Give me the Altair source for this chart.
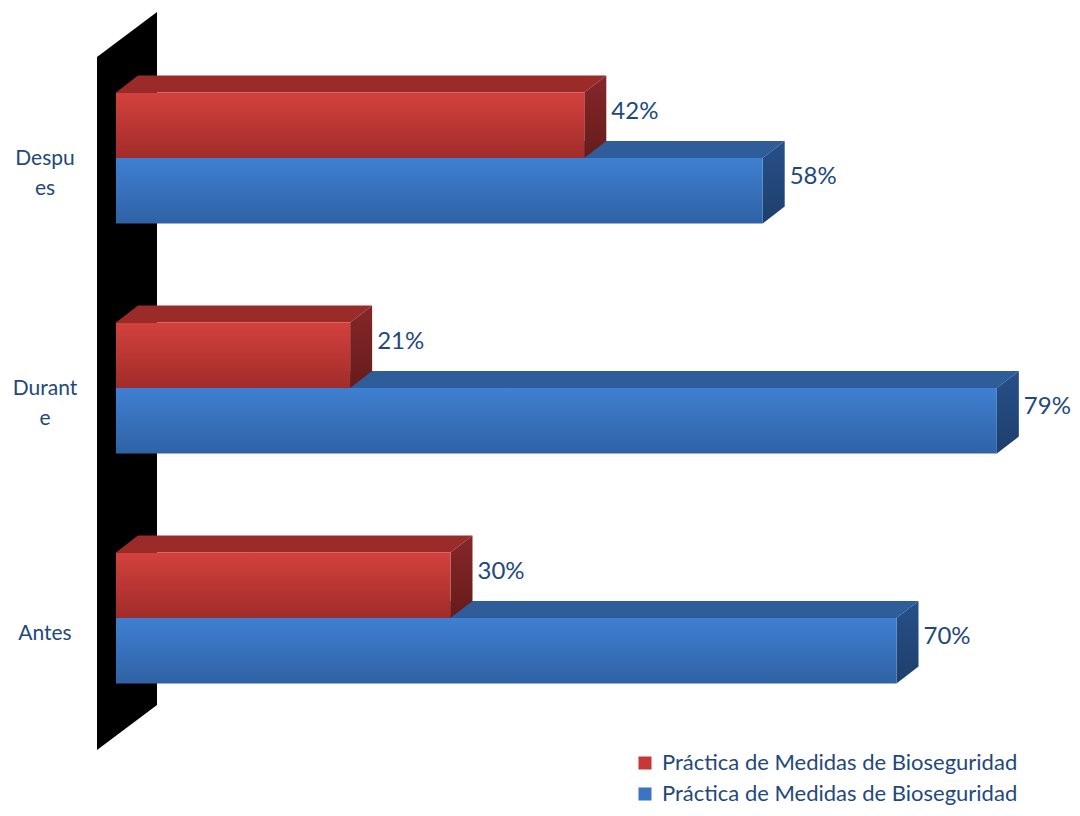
import altair as alt
import pandas as pd

# ---- data ----
categories = ["Despues", "Durante", "Antes"]
category_labels = ["Despu\nes", "Durant\ne", "Antes"]
red_values = [42, 21, 30]
blue_values = [58, 79, 70]
legend_keys = ["Rojo", "Azul"]
legend_text = "Práctica de Medidas de Bioseguridad"

# ---- geometry (in data units) ----
W, H = 1064, 800
PX_PER_PCT = 11.15
ZERO_PX = 108
X_DOMAIN = [-ZERO_PX / PX_PER_PCT, (W - ZERO_PX) / PX_PER_PCT]
Y_UNIT_PX = 230.0
Y_DOMAIN = [-150 / Y_UNIT_PX, (H - 150) / Y_UNIT_PX]
HALF = 65.5 / Y_UNIT_PX          # bar thickness
DX = 22 / PX_PER_PCT             # depth along x (percent)
DY = 17 / Y_UNIT_PX              # depth along y

fronts, faces, labels = [], [], []
fid = 0
for series, vals, off in (("blue", blue_values, 0.0), ("red", red_values, -HALF)):
    for i, (cat, v) in enumerate(zip(categories, vals)):
        ytop = i + off
        ybot = ytop + HALF
        fronts.append(dict(series=series, cat=cat, x=0.0, x2=v, y=ytop, y2=ybot))
        # top face
        for (xx, yy, yy2) in ((0.0, ytop, ytop), (DX, ytop - DY, ytop),
                              (v, ytop - DY, ytop), (v + DX, ytop - DY, ytop - DY)):
            faces.append(dict(fid=fid, series=series, kind="top", x=xx, y=yy, y2=yy2))
        fid += 1
        # side face
        for (xx, yy, yy2) in ((v, ytop, ybot), (v + DX, ytop - DY, ybot - DY)):
            faces.append(dict(fid=fid, series=series, kind="side", x=xx, y=yy, y2=yy2))
        fid += 1
        labels.append(dict(series=series, x=v + DX, y=(ytop + ybot) / 2 - DY / 2,
                           text=f"{v}%"))

fronts = pd.DataFrame(fronts)
faces = pd.DataFrame(faces)
labels = pd.DataFrame(labels)

# axis wall (black slab behind the bars)
WALL_FRONT_X = -19 / PX_PER_PCT
WALL_BACK_X = 41 / PX_PER_PCT
wall = pd.DataFrame([
    dict(x=WALL_FRONT_X, y=-101 / Y_UNIT_PX, y2=592 / Y_UNIT_PX),
    dict(x=WALL_BACK_X, y=-146 / Y_UNIT_PX, y2=547 / Y_UNIT_PX),
])

cat_y = []
for i, lab in enumerate(category_labels):
    n = lab.count("\n") + 1
    cat_y.append(i + (16 - 15 * (n - 1)) / Y_UNIT_PX)
cat_df = pd.DataFrame(dict(label=category_labels,
                           x=[-71 / PX_PER_PCT] * 3,
                           y=cat_y))
legend_df = pd.DataFrame(dict(key=legend_keys, x=[0, 0], y=[0, 0]))

xs = alt.Scale(domain=X_DOMAIN, nice=False, zero=False)
ys = alt.Scale(domain=Y_DOMAIN, nice=False, zero=False, reverse=True)
X = lambda f="x": alt.X(f"{f}:Q", scale=xs, axis=None)
Y = lambda f="y": alt.Y(f"{f}:Q", scale=ys, axis=None)


def grad(c0, c1):
    return {"gradient": "linear", "x1": 0, "y1": 0, "x2": 0, "y2": 1,
            "stops": [{"offset": 0, "color": c0}, {"offset": 1, "color": c1}]}


COL = {
    "red": dict(front=grad("#D4413D", "#A02C2A"), top="#9B2B29",
                side=grad("#86272A", "#661B1A")),
    "blue": dict(front=grad("#3F80D2", "#2F62A5"), top="#2E5D99",
                 side=grad("#27508A", "#1E3F6C")),
}

layers = []
wall_layer = alt.Chart(wall).mark_area(color="black", orient="vertical").encode(
    x=X(), y=Y(), y2="y2:Q")
layers.append(wall_layer)

for s in ("blue", "red"):
    fsub = faces[faces.series == s]
    layers.append(alt.Chart(fsub[fsub.kind == "top"]).mark_area(
        fill=COL[s]["top"], orient="vertical").encode(
        x=X(), y=Y(), y2="y2:Q", detail="fid:N"))
    layers.append(alt.Chart(fsub[fsub.kind == "side"]).mark_area(
        fill=COL[s]["side"], orient="vertical").encode(
        x=X(), y=Y(), y2="y2:Q", detail="fid:N"))
    layers.append(alt.Chart(fronts[fronts.series == s]).mark_rect(
        fill=COL[s]["front"]).encode(x=X(), x2="x2:Q", y=Y(), y2="y2:Q"))

text_col = "#1F497D"
layers.append(alt.Chart(labels).mark_text(
    align="left", baseline="middle", dx=5, dy=-5, font="Lato", fontSize=24,
    color=text_col).encode(x=X(), y=Y(), text="text:N"))

layers.append(alt.Chart(cat_df).mark_text(
    align="center", baseline="middle", font="Lato", fontSize=21, lineHeight=30,
    lineBreak="\n", color=text_col).encode(x=X(), y=Y(), text="label:N"))

layers.append(alt.Chart(legend_df).mark_square(opacity=0, size=10).encode(
    x=X(), y=Y(),
    color=alt.Color("key:N", scale=alt.Scale(domain=legend_keys,
                                             range=["#C53835", "#3A74C2"]),
                    legend=alt.Legend(
                        orient="none", legendX=626, legendY=744, title=None,
                        labelExpr=f"'{legend_text}'", symbolType="square",
                        symbolSize=170, symbolOpacity=1, symbolStrokeWidth=0,
                        labelFontSize=22, labelFont="Lato", labelColor=text_col,
                        labelLimit=0, rowPadding=9, labelOffset=6))))

chart = alt.layer(*layers).properties(
    width=W, height=H, padding=0,
    autosize=alt.AutoSizeParams(type="none"),
).configure_view(stroke=None)

chart.save("out.html", embed_options={"renderer": "svg", "actions": False})
